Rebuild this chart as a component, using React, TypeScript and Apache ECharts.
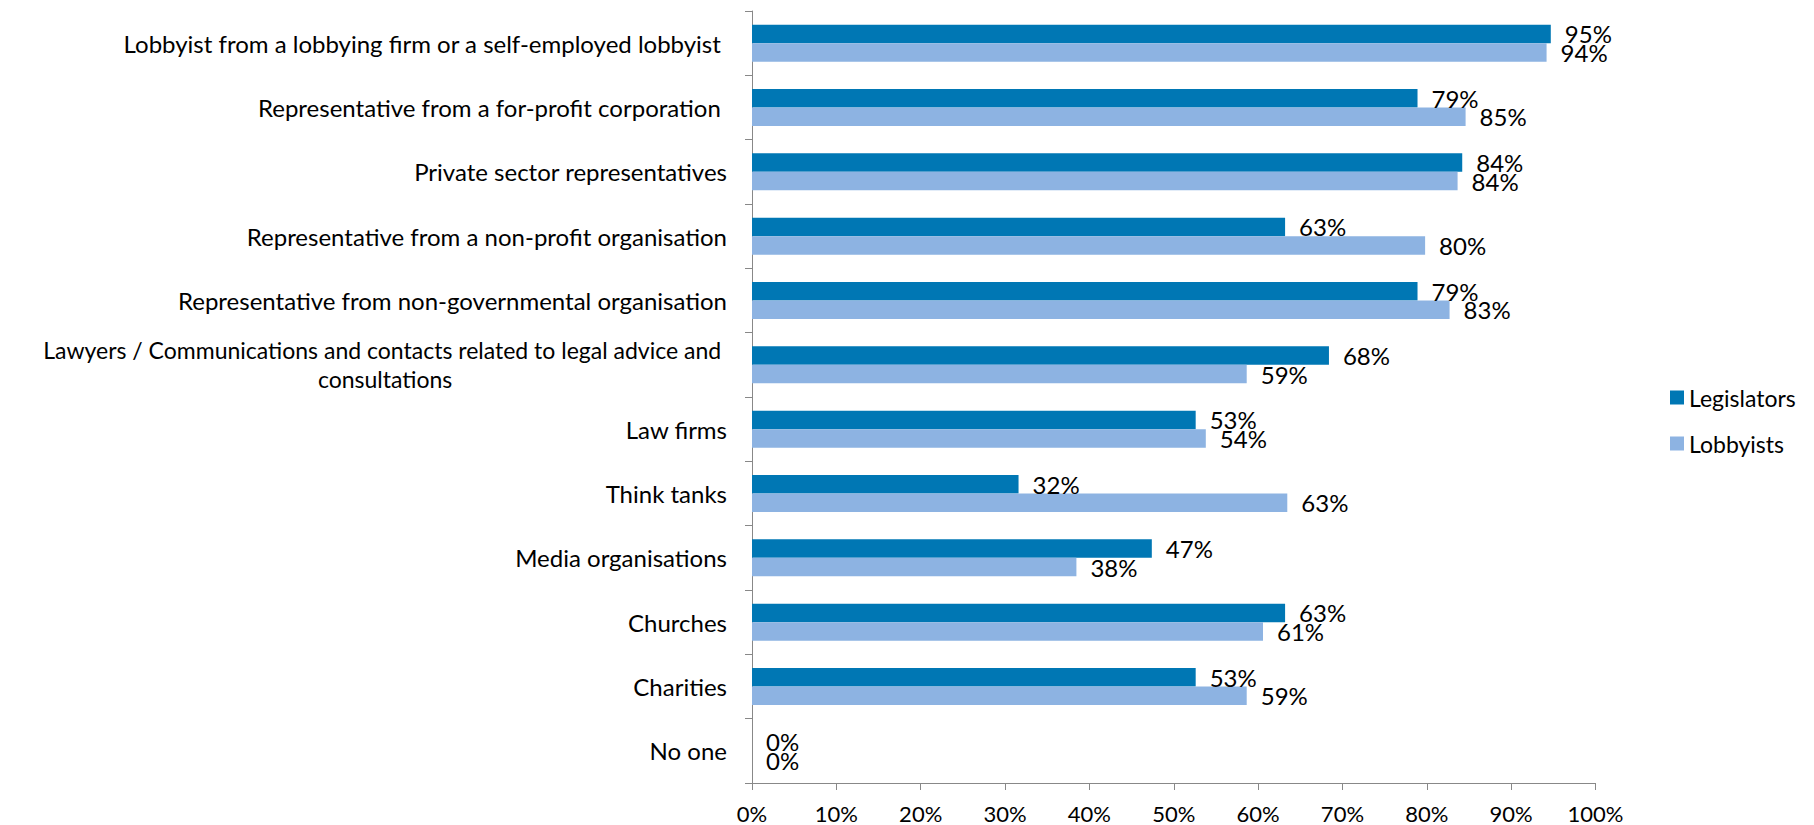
import React, { useEffect, useRef } from "react";
import * as echarts from "echarts";

const categories: string[] = [
  "Lobbyist from a lobbying firm or a self-employed lobbyist ",
  "Representative from a for-profit corporation ",
  "Private sector representatives",
  "Representative from a non-profit organisation",
  "Representative from non-governmental organisation",
  "Lawyers / Communications and contacts related to legal advice and \nconsultations",
  "Law firms",
  "Think tanks",
  "Media organisations",
  "Churches",
  "Charities",
  "No one",
];

const legislators: number[] = [94.7, 78.9, 84.2, 63.2, 78.9, 68.4, 52.6, 31.6, 47.4, 63.2, 52.6, 0];
const lobbyists: number[] = [94.2, 84.6, 83.65, 79.8, 82.7, 58.65, 53.8, 63.46, 38.46, 60.58, 58.65, 0];

const seriesNames: string[] = ["Legislators", "Lobbyists"];
const colors: string[] = ["#0077b4", "#8db3e2"];

const FONT = "Lato";

export default function App() {
  const ref = useRef<HTMLDivElement>(null);
  useEffect(() => {
    if (!ref.current) return;
    const chart = echarts.init(ref.current, undefined, { renderer: "svg" });
    const labelCfg = {
      show: true,
      position: "right" as const,
      distance: 14,
      color: "#000",
      fontFamily: FONT,
      fontSize: 24,
      lineHeight: 18,
      formatter: (p: any) => Math.round(p.value) + "%",
    };
    chart.setOption({
      animation: false,
      textStyle: { fontFamily: FONT },
      grid: { left: 752, right: 218.5, top: 11, bottom: 42, containLabel: false },
      legend: {
        orient: "vertical",
        left: 1665,
        top: 381,
        itemWidth: 14,
        itemHeight: 14,
        itemGap: 23,
        icon: "rect",
        data: seriesNames,
        textStyle: { color: "#000", fontSize: 23, fontFamily: FONT, lineHeight: 22 },
      },
      xAxis: {
        type: "value",
        min: 0,
        max: 100,
        interval: 10,
        axisLine: { show: true, lineStyle: { color: "#888", width: 1 } },
        axisTick: { show: true, length: 7, lineStyle: { color: "#888" } },
        splitLine: { show: false },
        axisLabel: {
          formatter: "{value}%",
          color: "#000",
          fontSize: 22,
          fontFamily: FONT,
          lineHeight: 16,
          margin: 22,
        },
      },
      yAxis: {
        type: "category",
        inverse: true,
        data: categories,
        axisLine: { show: true, lineStyle: { color: "#888", width: 1 } },
        axisTick: { show: true, length: 7, lineStyle: { color: "#888" } },
        axisLabel: {
          color: "#000",
          fontSize: 24,
          fontFamily: FONT,
          margin: 25,
          lineHeight: 29,
          formatter: (v: string) =>
            v.includes("\n")
              ? v
                  .split("\n")
                  .map((s) => "{c|" + s + "}")
                  .join("\n")
              : v,
          rich: {
            c: { align: "center", fontSize: 23, fontFamily: FONT, color: "#000", lineHeight: 29 },
          },
        },
      },
      series: [
        {
          name: seriesNames[0],
          type: "bar",
          data: legislators,
          barWidth: 18.5,
          barGap: "0%",
          itemStyle: { color: colors[0] },
          label: labelCfg,
        },
        {
          name: seriesNames[1],
          type: "bar",
          data: lobbyists,
          barWidth: 18.5,
          barGap: "0%",
          itemStyle: { color: colors[1] },
          label: labelCfg,
        },
      ],
    });
    return () => chart.dispose();
  }, []);
  return (
    <div
      ref={ref}
      style={{ position: "absolute", left: 0, top: 0, width: 1814, height: 825, background: "#fff" }}
    />
  );
}
